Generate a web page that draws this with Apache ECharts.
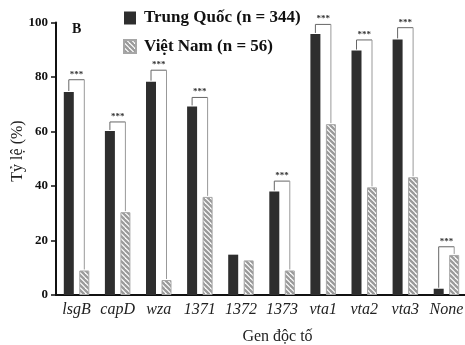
<!DOCTYPE html>
<html>
<head>
<meta charset="utf-8">
<script src="https://cdn.jsdelivr.net/npm/echarts@6/dist/echarts.min.js"></script>
<style>
  html, body { margin: 0; padding: 0; background: #fff; }
  #chart { width: 465px; height: 345px; }
</style>
</head>
<body>
<div id="chart"></div>
<script>
// du lieu doc tu hinh
var genes = ['lsgB', 'capD', 'wza', '1371', '1372', '1373', 'vta1', 'vta2', 'vta3', 'None'];
var trungQuoc = [74.5, 60.2, 78.3, 69.2, 14.8, 38.0, 95.8, 89.7, 93.8, 2.3];
var vietNam = [9.0, 30.4, 5.5, 36.0, 12.7, 9.0, 62.7, 39.5, 43.2, 14.7];
// muc ngang cua dau *** (index gen, muc)
var sigIndex = [0, 1, 2, 3, 5, 6, 7, 8, 9];
var sigLevel = [79, 63.5, 82.5, 72.5, 41.8, 99.3, 93.6, 98.1, 17.7];
var yTicks = [0, 20, 40, 60, 80, 100];

var BAR_W = 10, GAP = 5.5;
var serif = '"Liberation Serif", "DejaVu Serif", serif';

// hoa van soc cho cot Viet Nam
function makeHatch() {
    var c = document.createElement('canvas');
    c.width = 5; c.height = 5;
    var ctx = c.getContext('2d');
    ctx.fillStyle = '#ffffff';
    ctx.fillRect(0, 0, 5, 5);
    ctx.strokeStyle = '#9a9a9a';
    ctx.lineWidth = 2.3;
    for (var k = -5; k <= 5; k += 5) {
        ctx.beginPath();
        ctx.moveTo(k - 1, -1);
        ctx.lineTo(k + 6, 6);
        ctx.stroke();
    }
    return c;
}

var sigData = [];
for (var i = 0; i < sigIndex.length; i++) {
    var g = sigIndex[i];
    sigData.push([g, sigLevel[i], trungQuoc[g], vietNam[g]]);
}

var myChart = echarts.init(document.getElementById('chart'));
var option = {
    animation: false,
    grid: { left: 56, right: -2, top: 22.5, bottom: 50, containLabel: false, outerBoundsMode: 'none' },
    legend: {
        orient: 'vertical',
        left: 123,
        top: 9,
        padding: 0,
        itemWidth: 12,
        itemHeight: 13,
        itemGap: 10.5,
        icon: 'rect',
        textStyle: {
            fontFamily: serif, fontWeight: 'bold', fontSize: 17, color: '#111',
            lineHeight: 18, padding: [0, 0, 0, 3]
        },
        data: ['Trung Quốc (n = 344)', 'Việt Nam (n = 56)']
    },
    graphic: [{
        type: 'text', left: 72, top: 22,
        style: { text: 'B', font: 'bold 14px ' + serif, fill: '#111' }
    }, {
        // ten truc tung
        type: 'text', x: 18, y: 151, rotation: Math.PI / 2,
        style: {
            text: 'Tỷ lệ (%)', font: '16px ' + serif, fill: '#222',
            align: 'center', verticalAlign: 'middle'
        }
    }],
    xAxis: {
        type: 'category',
        data: genes,
        name: 'Gen độc tố',
        nameLocation: 'middle',
        nameGap: 34,
        nameTextStyle: { fontFamily: serif, fontSize: 16, color: '#222', padding: [0, 0, 0, 32] },
        axisLine: { lineStyle: { color: '#111', width: 2 } },
        axisTick: { alignWithLabel: true, interval: 0, length: 5, lineStyle: { color: '#111', width: 1.5 } },
        axisLabel: { interval: 0, fontFamily: serif, fontStyle: 'italic', fontSize: 16, color: '#222', margin: 7 }
    },
    yAxis: {
        type: 'value',
        min: 0, max: 100, interval: 20,
        axisLine: { show: true, lineStyle: { color: '#111', width: 2 } },
        axisTick: { show: true, length: 5, lineStyle: { color: '#111', width: 1.5 } },
        axisLabel: {
            fontFamily: serif, fontWeight: 'bold', fontSize: 13, color: '#111', margin: 8,
            formatter: function (v) { return yTicks.indexOf(v) >= 0 ? String(v) : ''; }
        },
        splitLine: { show: false }
    },
    series: [{
        name: 'Trung Quốc (n = 344)',
        type: 'bar',
        data: trungQuoc,
        barWidth: BAR_W,
        barGap: (GAP / BAR_W * 100) + '%',
        itemStyle: { color: '#2e2e2e' }
    }, {
        name: 'Việt Nam (n = 56)',
        type: 'bar',
        data: vietNam,
        barWidth: BAR_W,
        itemStyle: {
            color: { image: makeHatch(), repeat: 'repeat' },
            borderColor: '#a6a6a6',
            borderWidth: 1
        }
    }, {
        type: 'custom',
        clip: false,
        silent: true,
        data: sigData,
        renderItem: function (params, api) {
            var cx = api.coord([api.value(0), 0])[0];
            var off = (BAR_W + GAP) / 2;
            var xL = cx - off, xR = cx + off;
            var yTop = api.coord([api.value(0), api.value(1)])[1];
            var yL = api.coord([api.value(0), api.value(2)])[1] - 1;
            var yR = api.coord([api.value(0), api.value(3)])[1] - 1;
            return {
                type: 'group',
                children: [{
                    type: 'polyline',
                    shape: { points: [[xL, yL], [xL, yTop], [xR, yTop]] },
                    style: { stroke: '#666', lineWidth: 1, fill: null }
                }, {
                    type: 'line',
                    shape: { x1: xR, y1: yTop, x2: xR, y2: yR },
                    style: { stroke: '#999', lineWidth: 1 }
                }, {
                    type: 'text',
                    x: cx, y: yTop - 1,
                    style: {
                        text: '***', font: 'bold 9px ' + serif, fill: '#333',
                        align: 'center', verticalAlign: 'bottom'
                    }
                }]
            };
        }
    }]
};
myChart.setOption(option);
</script>
</body>
</html>
